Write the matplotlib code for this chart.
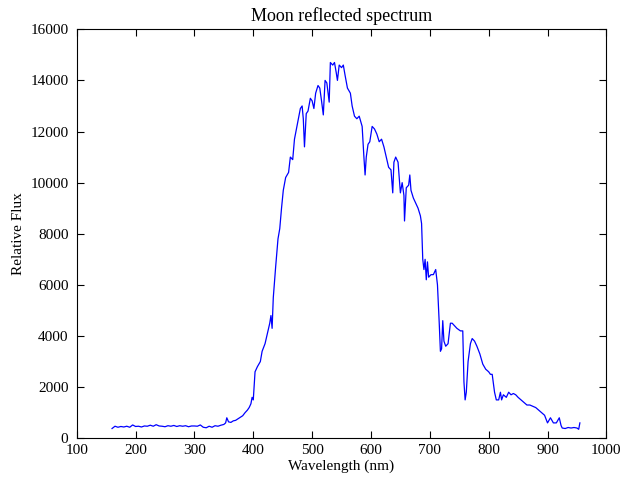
import matplotlib
matplotlib.use('Agg')
import matplotlib.pyplot as plt
import numpy as np

# wavelength (nm) and relative flux
wavelength = [160, 165, 170, 175, 180, 185, 190, 195, 200, 205, 210, 215, 220, 225, 230, 235,
              240, 245, 250, 255, 260, 265, 270, 275, 280, 285, 290, 295, 300, 305, 310, 315,
              320, 325, 330, 335, 340, 345, 350, 353, 355, 358, 362, 366, 370, 374, 378, 382,
              386, 390, 393, 396, 398, 400, 403, 407, 412, 415, 420, 425, 428, 430, 432, 434,
              438, 442, 445, 448, 451, 455, 460, 463, 467, 470, 475, 480, 483, 485, 487, 490,
              493, 497, 500, 503, 506, 510, 513, 516, 519, 522, 525, 529, 531, 535, 538, 541,
              543, 546, 550, 553, 556, 560, 565, 568, 572, 576, 580, 585, 588, 590, 592, 595,
              598, 602, 606, 610, 614, 618, 622, 626, 630, 634, 637, 639, 642, 646, 650, 653,
              656, 657, 660, 664, 666, 668, 672, 676, 680, 684, 686, 688, 690, 692, 694, 696,
              698, 702, 706, 710, 713, 716, 718, 720, 722, 724, 727, 731, 735, 738, 742, 746,
              752, 756, 758, 760, 762, 765, 769, 772, 776, 780, 785, 790, 795, 800, 803, 806,
              810, 813, 817, 820, 822, 825, 830, 834, 838, 842, 846, 850, 855, 860, 865, 870,
              875, 880, 885, 890, 895, 900, 905, 910, 915, 920, 923, 925, 930, 935, 940, 945,
              950, 953, 955]
flux = [380, 470, 430, 460, 440, 470, 430, 520, 460, 470, 440, 480, 470, 510, 470, 530,
        480, 470, 450, 490, 470, 500, 460, 490, 470, 490, 450, 480, 480, 470, 520, 430,
        410, 470, 430, 490, 470, 510, 540, 600, 800, 640, 620, 680, 700, 760, 820, 880,
        1000, 1100, 1200, 1350, 1600, 1500, 2600, 2800, 3000, 3400, 3700, 4200, 4500, 4800, 4300, 5500,
        6700, 7800, 8200, 9000, 9700, 10200, 10400, 11000, 10900, 11700, 12300, 12900, 13000, 12500, 11400, 12700,
        12800, 13300, 13200, 12900, 13500, 13800, 13700, 13200, 12650, 14000, 13900, 13150, 14700, 14600, 14700, 14300,
        14000, 14600, 14500, 14600, 14200, 13700, 13500, 13000, 12600, 12500, 12600, 12200, 11000, 10300, 11000, 11500,
        11600, 12200, 12100, 11900, 11600, 11700, 11400, 11000, 10600, 10500, 9600, 10800, 11000, 10800, 9600, 10000,
        9500, 8500, 9800, 9900, 10300, 9700, 9400, 9200, 9000, 8700, 8400, 7000, 6600, 7000, 6200, 6900,
        6300, 6400, 6400, 6600, 6000, 4500, 3400, 3500, 4600, 3800, 3600, 3700, 4500, 4500, 4400, 4300,
        4200, 4200, 2200, 1500, 1800, 3000, 3700, 3900, 3800, 3600, 3300, 2900, 2700, 2600, 2500, 2500,
        1800, 1500, 1500, 1800, 1500, 1700, 1600, 1800, 1700, 1750, 1700, 1600, 1500, 1400, 1300, 1300,
        1250, 1200, 1100, 1000, 900, 600, 800, 600, 600, 800, 500, 400, 380, 420, 400, 420,
        400, 350, 600]

plt.rcParams['font.family'] = ['Liberation Serif', 'DejaVu Serif']

fig = plt.figure(figsize=(6.29, 4.8), dpi=100)
ax = fig.add_axes([0.122, 0.087, 0.842, 0.852])
ax.plot(wavelength, flux, color='b', linewidth=0.9)
ax.set_xlim(100, 1000)
ax.set_ylim(0, 16000)
ax.set_xticks(np.arange(100, 1001, 100))
ax.set_yticks(np.arange(0, 16001, 2000))
ax.tick_params(direction='in', top=True, right=True, length=5, width=0.8, labelsize=11)
ax.tick_params(axis='x', pad=4)
ax.tick_params(axis='y', pad=6)
for s in ax.spines.values():
    s.set_linewidth(0.8)
ax.set_title('Moon reflected spectrum', fontsize=13)
ax.set_xlabel('Wavelength (nm)', fontsize=11, labelpad=2)
ax.set_ylabel('Relative Flux', fontsize=11)
fig.savefig('out.png', dpi=100)
